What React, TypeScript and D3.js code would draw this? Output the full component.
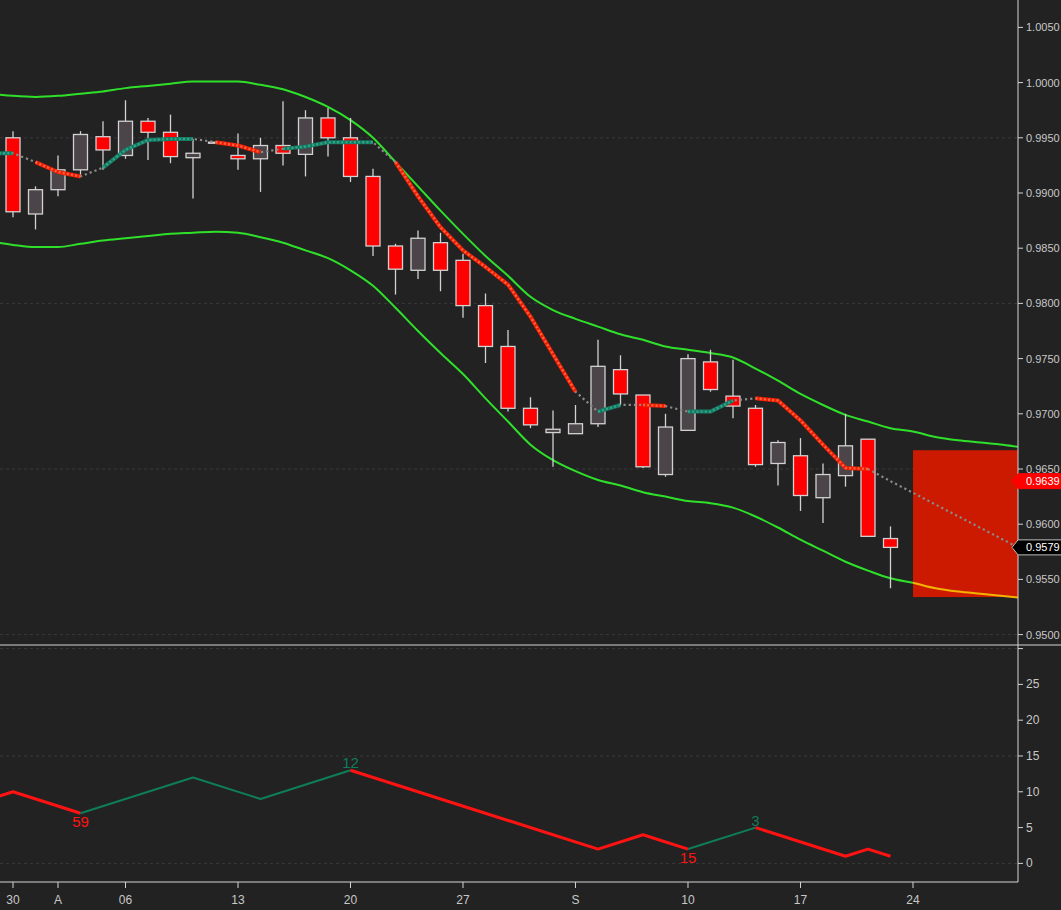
import React from 'react';
import * as d3 from 'd3';

// ---------- DATA ----------
// trading-day index 0 = Jul 30 ... 39 = Sep 21 (weekends skipped)
const candleIdx = d3.range(0, 40);
const open = [0.9950,0.9881,0.9903,0.9921,0.9951,0.9934,0.9965,0.9955,0.9932,0.9946,0.9934,0.9931,0.9943,0.9935,0.9968,0.9950,0.9915,0.9852,0.9830,0.9855,0.9839,0.9798,0.9761,0.9705,0.9683,0.9682,0.9691,0.9740,0.9717,0.9645,0.9685,0.9747,0.9716,0.9705,0.9655,0.9662,0.9624,0.9644,0.9677,0.9587];
const high = [0.9956,0.9906,0.9934,0.9956,0.9965,0.9984,0.9968,0.9971,0.9949,0.9946,0.9954,0.9950,0.9983,0.9975,0.9977,0.9968,0.9922,0.9854,0.9866,0.9864,0.9845,0.9809,0.9776,0.9715,0.9703,0.9708,0.9767,0.9753,0.9717,0.9700,0.9754,0.9758,0.9749,0.9708,0.9676,0.9678,0.9655,0.9700,0.9677,0.9598];
const low = [0.9878,0.9867,0.9897,0.9915,0.9921,0.9931,0.9930,0.9927,0.9895,0.9946,0.9921,0.9901,0.9925,0.9915,0.9933,0.9910,0.9843,0.9808,0.9822,0.9811,0.9787,0.9746,0.9702,0.9687,0.9652,0.9682,0.9688,0.9708,0.9651,0.9643,0.9685,0.9720,0.9696,0.9652,0.9635,0.9612,0.9601,0.9634,0.9589,0.9542];
const close = [0.9883,0.9903,0.9921,0.9953,0.9939,0.9965,0.9955,0.9933,0.9936,0.9946,0.9931,0.9943,0.9936,0.9968,0.9950,0.9915,0.9852,0.9831,0.9859,0.9830,0.9798,0.9761,0.9705,0.9690,0.9686,0.9691,0.9743,0.9718,0.9652,0.9688,0.9750,0.9722,0.9707,0.9654,0.9674,0.9626,0.9645,0.9671,0.9589,0.9579];

// moving average, index -1 .. 39
const maIdx = d3.range(-1, 40);
const maVal = [0.9936,0.9936,0.9928,0.9919,0.9915,0.9923,0.9939,0.9948,0.9949,0.9949,0.9946,0.9943,0.9937,0.9940,0.9942,0.9946,0.9946,0.9946,0.9928,0.9897,0.9869,0.9848,0.9833,0.9817,0.9788,0.9754,0.9720,0.9702,0.9708,0.9708,0.9707,0.9702,0.9702,0.9712,0.9714,0.9712,0.9694,0.9672,0.9651,0.9650,0.9639];
// trend state of each MA segment: u = up, d = down, n = neutral
const maTrend = "unddnuuuunddnuuuunddddddddnundnuunddddd";
// projected MA
const maForecastIdx = [39, 44.67];
const maForecastVal = [0.9639, 0.9579];

// bands, index -1 .. 45
const bandIdx = d3.range(-1, 46);
const upperBand = [0.9990,0.9988,0.9987,0.9988,0.9990,0.9992,0.9995,0.9997,0.9999,1.0001,1.0001,1.0001,0.9998,0.9994,0.9987,0.9978,0.9966,0.9950,0.9928,0.9906,0.9884,0.9863,0.9843,0.9825,0.9806,0.9794,0.9786,0.9779,0.9772,0.9767,0.9761,0.9758,0.9755,0.9751,0.9741,0.9730,0.9718,0.9708,0.9699,0.9693,0.9687,0.9684,0.9679,0.9676,0.9674,0.9672,0.9669];
const lowerBand = [0.9856,0.9853,0.9851,0.9851,0.9854,0.9857,0.9859,0.9861,0.9863,0.9864,0.9865,0.9864,0.9860,0.9855,0.9848,0.9841,0.9830,0.9816,0.9796,0.9775,0.9755,0.9736,0.9714,0.9693,0.9672,0.9658,0.9648,0.9640,0.9635,0.9629,0.9625,0.9621,0.9619,0.9615,0.9607,0.9597,0.9586,0.9576,0.9566,0.9558,0.9551,0.9547,0.9542,0.9539,0.9537,0.9535,0.9533];
const forecastStartIdx = 40;

// forecast zone
const zoneIdx = [40, 45];
const zoneTop = 0.9667;
const zoneBottom = 0.9534;

// lower indicator
const indIdx = [-1, 0, 3, 8, 11, 15, 26, 28, 30, 33, 37, 38, 39];
const indVal = [9, 10, 7, 12, 9, 13, 2, 4, 2, 5, 1, 2, 1];
const indTrend = "dduuuddduddd";
const indLabelIdx = [3, 15, 30, 33];
const indLabelText = ["59", "12", "15", "3"];
const indLabelPos = ["below", "above", "below", "above"];

// axes
const xTickIdx = [0, 2, 5, 10, 15, 20, 25, 30, 35, 40];
const xTickLabel = ["30", "A", "06", "13", "20", "27", "S", "10", "17", "24"];
const priceTicks = d3.range(0, 12).map((k) => +(0.95 + k * 0.005).toFixed(4));
const priceGrid = [0.95, 0.965, 0.98, 0.995];
const indTicks = [0, 5, 10, 15, 20, 25, 30];
const indTickLabels = [0, 5, 10, 15, 20, 25];
const indGrid = [0, 15, 30];

// ---------- LAYOUT ----------
const W = 1061;
const H = 910;
const PLOT_R = 1018;
const MAIN_B = 645;
const LOW_B = 882;
const FONT = "Arial, 'Liberation Sans', sans-serif";

const C = {
  bg: '#222222',
  axis: '#d4d4d4',
  text: '#c8c8c8',
  grid: '#3a3a3a',
  up: '#4b4448',
  down: '#ff0000',
  outline: '#d2d2d2',
  band: '#2fe02a',
  bandFore: '#f2b400',
  zone: '#cc1a00',
  maGrey: '#8a8a8a',
  red: '#f01e00',
  redDot: '#ff6244',
  teal: '#177a62',
  tealDot: '#2fa58a',
  indRed: '#ff1212',
  indTeal: '#0e7d5a',
};

export default function App() {
  const x = d3.scaleLinear().domain([-0.578, 44.667]).range([0, PLOT_R]);
  const y = d3.scaleLinear().domain([0.949058, 1.007482]).range([MAIN_B, 0]);
  const yl = d3.scaleLinear().domain([-2.6, 30.5]).range([LOW_B, MAIN_B]);

  const bandLine = (idx: number[], vals: number[]) =>
    d3.line<number>().x((_, i) => x(idx[i])).y((v) => y(v)).curve(d3.curveMonotoneX)(vals) || '';

  const fi = bandIdx.indexOf(forecastStartIdx);
  const upperPath = bandLine(bandIdx, upperBand);
  const lowerPath = bandLine(bandIdx.slice(0, fi + 1), lowerBand.slice(0, fi + 1));
  const lowerForePath = bandLine(bandIdx.slice(fi), lowerBand.slice(fi));

  const maPts: [number, number][] = maIdx.map((d, i) => [x(d), y(maVal[i])]);
  const maPath = d3.line()(maPts) || '';
  const foreMaPath = d3.line()(maForecastIdx.map((d, i) => [x(d), y(maForecastVal[i])] as [number, number])) || '';

  // group contiguous trend runs
  const runs: { t: string; pts: [number, number][]; end: number }[] = [];
  for (let k = 0; k < maTrend.length; k++) {
    const t = maTrend[k];
    if (t === 'n') continue;
    const last = runs[runs.length - 1];
    if (last && last.t === t && last.end === k) {
      last.pts.push(maPts[k + 1]);
      last.end = k + 1;
    } else {
      runs.push({ t, pts: [maPts[k], maPts[k + 1]], end: k + 1 });
    }
  }

  const indPts: [number, number][] = indIdx.map((d, i) => [x(d), yl(indVal[i])]);
  const indRuns: { t: string; pts: [number, number][] }[] = [];
  for (let k = 0; k < indTrend.length; k++) {
    const t = indTrend[k];
    const last = indRuns[indRuns.length - 1];
    if (last && last.t === t) last.pts.push(indPts[k + 1]);
    else indRuns.push({ t, pts: [indPts[k], indPts[k + 1]] });
  }

  const bw = 14;
  const lastMa = maVal[maVal.length - 1];
  const lastClose = close[close.length - 1];

  const tag = (v: number, fill: string, stroke: string, label: string) => {
    const ty = y(v);
    const p = `M${PLOT_R - 6},${ty} L${PLOT_R},${ty - 7.5} L${W + 2},${ty - 7.5} L${W + 2},${ty + 7.5} L${PLOT_R},${ty + 7.5} Z`;
    return (
      <g>
        <path d={p} fill={fill} stroke={stroke} strokeWidth={1} />
        <text x={PLOT_R + 8} y={ty + 4} fill="#ffffff" fontSize={11} fontFamily={FONT}>{label}</text>
      </g>
    );
  };

  return (
    <svg width={W} height={H} style={{ position: 'absolute', left: 0, top: 0, display: 'block' }}>
      <defs>
        <clipPath id="clipMain"><rect x={0} y={0} width={PLOT_R} height={MAIN_B} /></clipPath>
        <clipPath id="clipLow"><rect x={0} y={MAIN_B} width={PLOT_R} height={LOW_B - MAIN_B} /></clipPath>
      </defs>
      <rect x={0} y={0} width={W} height={H} fill={C.bg} />

      {/* grids */}
      {priceGrid.map((g) => (
        <line key={'g' + g} x1={0} x2={PLOT_R} y1={y(g)} y2={y(g)} stroke={C.grid} strokeDasharray="3,3" />
      ))}
      {indGrid.map((g) => (
        <line key={'gl' + g} x1={0} x2={PLOT_R} y1={yl(g)} y2={yl(g)} stroke={C.grid} strokeDasharray="3,3" />
      ))}

      <g clipPath="url(#clipMain)">
        {/* forecast zone */}
        <rect x={x(zoneIdx[0])} y={y(zoneTop)} width={x(zoneIdx[1]) - x(zoneIdx[0])} height={y(zoneBottom) - y(zoneTop)} fill={C.zone} />
        {/* bands */}
        <path d={upperPath} fill="none" stroke={C.band} strokeWidth={2} />
        <path d={lowerPath} fill="none" stroke={C.band} strokeWidth={2} />
        <path d={lowerForePath} fill="none" stroke={C.bandFore} strokeWidth={2} />

        {/* candles */}
        {candleIdx.map((d, i) => {
          const o = open[i], c = close[i];
          const up = c >= o;
          const cx = x(d);
          const top = y(Math.max(o, c));
          const bot = y(Math.min(o, c));
          return (
            <g key={'c' + d}>
              <line x1={cx} x2={cx} y1={y(high[i])} y2={y(low[i])} stroke={C.outline} strokeWidth={1.3} />
              <rect x={cx - bw / 2} y={top} width={bw} height={Math.max(1, bot - top)} fill={up ? C.up : C.down} stroke={C.outline} strokeWidth={1.3} />
            </g>
          );
        })}

        {/* moving average */}
        <path d={maPath} fill="none" stroke={C.maGrey} strokeWidth={2.2} strokeDasharray="2.2,3" />
        <path d={foreMaPath} fill="none" stroke={C.maGrey} strokeWidth={2.2} strokeDasharray="2.2,3" />
        {runs.map((r, k) => {
          const d = d3.line()(r.pts) || '';
          const base = r.t === 'u' ? C.teal : C.red;
          const dot = r.t === 'u' ? C.tealDot : C.redDot;
          return (
            <g key={'r' + k}>
              <path d={d} fill="none" stroke={base} strokeWidth={4} strokeLinejoin="round" />
              <path d={d} fill="none" stroke={dot} strokeWidth={2.4} strokeDasharray="2,2.2" />
            </g>
          );
        })}
      </g>

      {/* lower indicator */}
      <g clipPath="url(#clipLow)">
        {indRuns.map((r, k) => (
          <path key={'ir' + k} d={d3.line()(r.pts) || ''} fill="none"
            stroke={r.t === 'u' ? C.indTeal : C.indRed} strokeWidth={r.t === 'u' ? 2 : 3} strokeLinejoin="round" />
        ))}
        {indLabelIdx.map((d, k) => {
          const v = indVal[indIdx.indexOf(d)];
          const below = indLabelPos[k] === 'below';
          return (
            <text key={'il' + k} x={x(d)} y={yl(v) + (below ? 14 : -2)} textAnchor="middle"
              fontSize={15} fontFamily={FONT} fill={below ? C.indRed : C.indTeal}>{indLabelText[k]}</text>
          );
        })}
      </g>

      {/* axes lines */}
      <line x1={PLOT_R} x2={PLOT_R} y1={0} y2={LOW_B} stroke={C.axis} strokeWidth={1} />
      <line x1={0} x2={W} y1={MAIN_B} y2={MAIN_B} stroke={C.axis} strokeWidth={1} />
      <line x1={0} x2={PLOT_R} y1={LOW_B} y2={LOW_B} stroke={C.axis} strokeWidth={1} />

      {/* right price axis */}
      {priceTicks.map((t) => (
        <g key={'pt' + t}>
          <line x1={PLOT_R} x2={PLOT_R + 5} y1={y(t)} y2={y(t)} stroke={C.axis} />
          <text x={PLOT_R + 8} y={y(t) + 4} fill={C.text} fontSize={11} fontFamily={FONT}>{t.toFixed(4)}</text>
        </g>
      ))}
      {indTicks.map((t) => (
        <line key={'it' + t} x1={PLOT_R} x2={PLOT_R + 5} y1={yl(t)} y2={yl(t)} stroke={C.axis} />
      ))}
      {indTickLabels.map((t) => (
        <text key={'itl' + t} x={PLOT_R + 8} y={yl(t) + 4} fill={C.text} fontSize={12} fontFamily={FONT}>{String(t)}</text>
      ))}

      {/* bottom time axis */}
      {xTickIdx.map((d, k) => (
        <g key={'xt' + d}>
          <line x1={x(d)} x2={x(d)} y1={LOW_B} y2={LOW_B + 6} stroke={C.axis} />
          <text x={x(d)} y={LOW_B + 22} textAnchor="middle" fill={C.text} fontSize={12} fontFamily={FONT}>{xTickLabel[k]}</text>
        </g>
      ))}

      {/* tags */}
      {tag(lastMa, '#ff0000', '#ff0000', lastMa.toFixed(4))}
      {tag(lastClose, '#000000', '#bdbdbd', lastClose.toFixed(4))}
    </svg>
  );
}
